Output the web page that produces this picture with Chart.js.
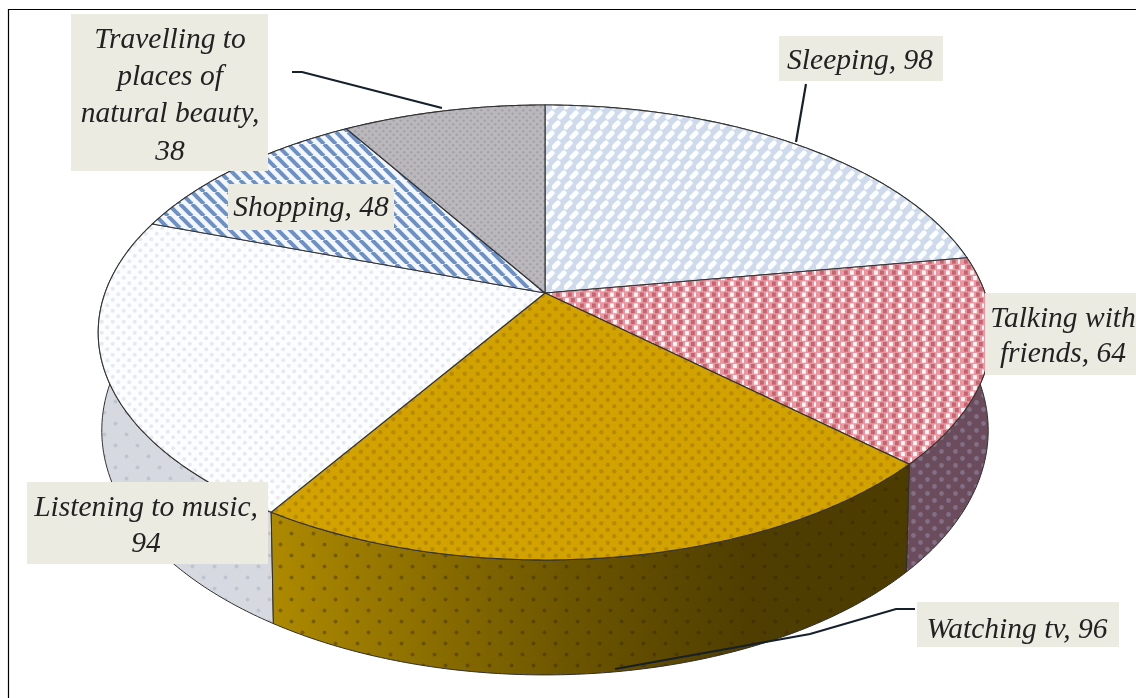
<!DOCTYPE html>
<html lang="en">
<head>
<meta charset="UTF-8">
<title>Leisure activities</title>
<style>
  html, body { margin: 0; padding: 0; background: #fff; }
  canvas { display: block; filter: blur(0.45px); }
</style>
</head>
<body>
<canvas id="grafico" width="1136" height="698"></canvas>
<script src="https://cdn.jsdelivr.net/npm/chart.js"></script>
<script>
const categories = ['Sleeping', 'Talking with friends', 'Watching tv', 'Listening to music', 'Shopping', 'Travelling to places of natural beauty'];
const values = [98, 64, 96, 94, 48, 38];

// how many words go on each line of a label
const labelBreaks = [[2], [2, 2], [3], [3, 1], [2], [2, 2, 2, 1]];
// label boxes: x, y, w, h, centre of text, first line middle, line step
const labelBoxes = [
  [779, 36, 164, 45, 860, 61, 36],
  [985, 293, 151, 82, 1063, 319, 35],
  [917, 602, 202, 45, 1017, 630, 36],
  [27, 482, 241, 82, 146, 508, 36],
  [228, 184, 166, 46, 311, 208, 36],
  [71, 14, 197, 157, 170, 40, 37.3]
];
const leaderLines = [
  [[806, 84], [796, 142]],
  [[915, 609], [896, 609], [810, 634], [615, 669]],
  [[292, 72], [302, 72], [442, 108]]
];

// projection of the pie disc
const cx = 545, cy = 293, ax = 440, ay = 220.6, k = 0.1736, depth = 95, shrink = 0.992;

function tile(w, h, paint) {
  const c = document.createElement('canvas');
  c.width = w; c.height = h;
  const t = c.getContext('2d');
  paint(t, w, h);
  return t.createPattern(c, 'repeat');
}

function dots(color, bg, size, r) {
  return tile(size, size, t => {
    if (bg) { t.fillStyle = bg; t.fillRect(0, 0, size, size); }
    t.fillStyle = color;
    t.beginPath(); t.arc(size / 4, size / 4, r, 0, 7); t.fill();
    t.beginPath(); t.arc(size * 3 / 4, size * 3 / 4, r, 0, 7); t.fill();
  });
}

const sleepFill = tile(12, 20, t => {
  t.fillStyle = '#cfdbec'; t.fillRect(0, 0, 12, 20);
  t.strokeStyle = '#fbfdff'; t.lineWidth = 5.2; t.lineCap = 'round';
  t.beginPath(); t.moveTo(2, 7); t.lineTo(6, 3); t.stroke();
  t.beginPath(); t.moveTo(8, 17); t.lineTo(12, 13); t.stroke();
  t.beginPath(); t.moveTo(-4, 17); t.lineTo(0, 13); t.stroke();
});
const talkFill = tile(24, 11, t => {
  t.fillStyle = '#ea97a3'; t.fillRect(0, 0, 24, 11);
  [[1, 1, '#fff9f5'], [7, 1, '#c4646f'], [13, 1, '#fff9f5'], [19, 1, '#c4646f'],
   [4, 6.5, '#c4646f'], [10, 6.5, '#fff9f5'], [16, 6.5, '#c4646f'], [22, 6.5, '#fff9f5']].forEach(d => {
    t.fillStyle = d[2]; t.fillRect(d[0], d[1], 3.8, 4.2);
  });
});
const watchFill = dots('#b88a00', '#d2a300', 13, 2.2);
const musicFill = dots('#e7e9ee', '#fcfdfe', 11, 2);
const shopFill = tile(12, 12, t => {
  t.fillStyle = '#f4f8fe'; t.fillRect(0, 0, 12, 12);
  t.strokeStyle = '#6d91c2'; t.lineWidth = 4;
  [-12, 0, 12].forEach(o => { t.beginPath(); t.moveTo(o, 0); t.lineTo(o + 12, 12); t.stroke(); });
});
const travelFill = dots('#a5a3a9', '#bab8bd', 7, 1.3);

const wallFills = ['#d8dde6', '#6b4c5c', null, '#d6d9e0', '#6d91c2', '#8c8a90'];

function project(a, lower) {
  const u = Math.cos(a), v = Math.sin(a), w = 1 - k * v;
  const x = cx + ax * u / w, y = cy + ay * v / w;
  if (!lower) return [x, y];
  return [cx + (x - cx) * shrink, y + depth / w];
}

function arcPoints(start, end, lower) {
  const n = Math.max(2, Math.ceil(Math.abs(end - start) / 0.01));
  const pts = [];
  for (let i = 0; i <= n; i++) pts.push(project(start + (end - start) * i / n, lower));
  return pts;
}

function tracePoints(ctx, pts, moveFirst) {
  pts.forEach((p, i) => {
    if (i === 0 && moveFirst) ctx.moveTo(p[0], p[1]);
    else ctx.lineTo(p[0], p[1]);
  });
}

const pie3d = {
  id: 'pie3d',
  beforeDatasetsDraw(chart) {
    const ctx = chart.ctx;
    const arcs = chart.getDatasetMeta(0).data;
    const drawOrder = [0, 5, 4, 3, 1, 2];

    // side walls first, the top disc covers the back ones
    drawOrder.forEach(i => {
      const el = arcs[i];
      const top = arcPoints(el.startAngle, el.endAngle, false);
      const bottom = arcPoints(el.startAngle, el.endAngle, true).reverse();
      ctx.beginPath();
      tracePoints(ctx, top, true);
      tracePoints(ctx, bottom, false);
      ctx.closePath();
      if (i === 2) {
        const g = ctx.createLinearGradient(276, 0, 905, 0);
        g.addColorStop(0, '#ad8900');
        g.addColorStop(0.45, '#6e5700');
        g.addColorStop(0.75, '#4f3e00');
        g.addColorStop(1, '#4d3c00');
        ctx.fillStyle = g;
        ctx.fill();
        ctx.fillStyle = dots('rgba(50,35,0,0.38)', null, 22, 2);
        ctx.fill();
      } else {
        ctx.fillStyle = wallFills[i];
        ctx.fill();
        if (i === 1) { ctx.fillStyle = dots('rgba(150,140,170,0.55)', null, 14, 2.4); ctx.fill(); }
        if (i === 3) { ctx.fillStyle = dots('rgba(170,175,190,0.5)', null, 22, 2); ctx.fill(); }
      }
      ctx.strokeStyle = '#2e2e2e';
      ctx.lineWidth = 1;
      ctx.stroke();
    });

    // top of every slice
    arcs.forEach(el => {
      ctx.beginPath();
      ctx.moveTo(cx, cy);
      tracePoints(ctx, arcPoints(el.startAngle, el.endAngle, false), false);
      ctx.closePath();
      ctx.fillStyle = el.options.backgroundColor;
      ctx.fill();
      ctx.strokeStyle = '#333';
      ctx.lineWidth = 1.1;
      ctx.stroke();
    });
    return false;
  },
  afterDraw(chart) {
    const ctx = chart.ctx;
    ctx.save();

    // frame of the picture
    ctx.strokeStyle = '#000';
    ctx.lineWidth = 1.2;
    ctx.beginPath();
    ctx.moveTo(8.5, 698); ctx.lineTo(8.5, 9.5); ctx.lineTo(1136, 9.5);
    ctx.stroke();

    ctx.strokeStyle = '#15202b';
    ctx.lineWidth = 2.2;
    leaderLines.forEach(line => {
      ctx.beginPath();
      line.forEach((p, i) => i ? ctx.lineTo(p[0], p[1]) : ctx.moveTo(p[0], p[1]));
      ctx.stroke();
    });

    ctx.font = 'italic 29.5px "Liberation Serif"';
    ctx.textAlign = 'center';
    ctx.textBaseline = 'middle';
    categories.forEach((name, i) => {
      const b = labelBoxes[i];
      ctx.fillStyle = '#ecebe2';
      ctx.fillRect(b[0], b[1], b[2], b[3]);
      const words = (name + ', ' + values[i]).split(' ');
      let used = 0;
      ctx.fillStyle = '#222';
      labelBreaks[i].forEach((count, line) => {
        ctx.fillText(words.slice(used, used + count).join(' '), b[4], b[5] + line * b[6]);
        used += count;
      });
    });
    ctx.restore();
  }
};

new Chart(document.getElementById('grafico'), {
  type: 'pie',
  data: {
    labels: categories,
    datasets: [{
      data: values,
      backgroundColor: [sleepFill, talkFill, watchFill, musicFill, shopFill, travelFill],
      borderWidth: 0
    }]
  },
  options: {
    responsive: false,
    animation: false,
    devicePixelRatio: 1,
    plugins: {
      legend: { display: false },
      tooltip: { enabled: false }
    }
  },
  plugins: [pie3d]
});
</script>
</body>
</html>
